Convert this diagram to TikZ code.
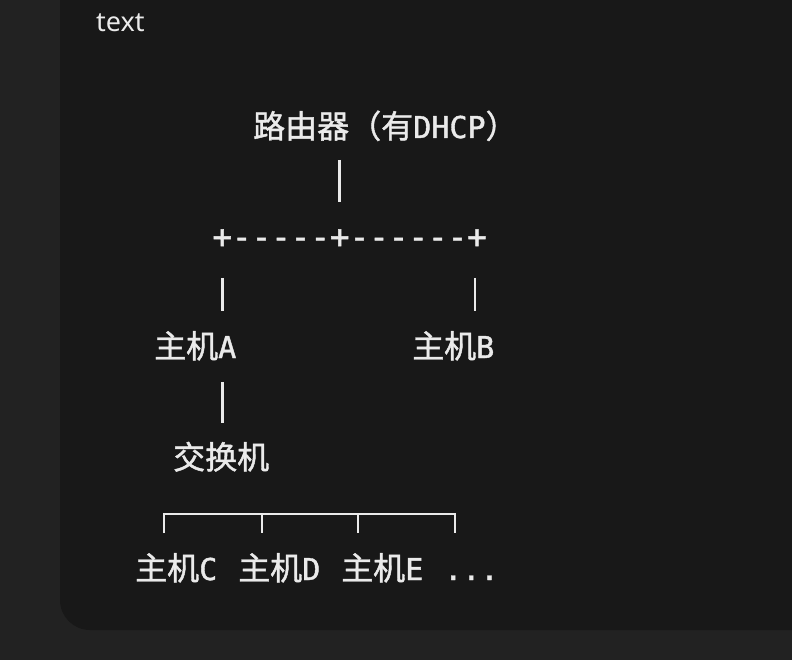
\documentclass[tikz,border=0pt]{standalone}
\usepackage{fontspec}
\newfontfamily\cjk[FakeBold=1.3]{Noto Sans CJK SC}
\newfontfamily\mono[Scale=0.94,FakeBold=1.3]{DejaVu Sans Mono}
\newfontfamily\monorow[FakeBold=1.5]{DejaVu Sans Mono}
\newfontfamily\ui{Noto Sans}
\definecolor{outerbg}{HTML}{222222}
\definecolor{innerbg}{HTML}{181818}
\definecolor{fg}{HTML}{EAEAEA}
\begin{document}
\begin{tikzpicture}[x=1pt,y=-1pt,
  lbl/.style={inner sep=0pt, text=fg, font=\fontsize{32}{32}\selectfont},
  wire/.style={draw=fg, line width=2.8pt}]
\useasboundingbox (0,0) rectangle (792,660);
\fill[outerbg] (0,0) rectangle (792,660);
\fill[innerbg, rounded corners=30pt] (60,-60) rectangle (852,630);

\node[anchor=base west, inner sep=0pt, text=fg, font=\ui\fontsize{27}{27}\selectfont] (title) at (96,32) {text};

\node[lbl, anchor=base west] (router) at (253,138) {\cjk 路由器（有\mono DHCP\cjk ）};
\node[lbl, anchor=base west, font=\monorow\fontsize{32.56}{32.56}\selectfont] (junction) at (212.2,248) {+-----+------+};
\node[lbl, anchor=base west] (hostA) at (154,358) {\cjk 主机\mono A};
\node[lbl, anchor=base west] (hostB) at (412,358) {\cjk 主机\mono B};
\node[lbl, anchor=base west] (switch) at (173,469) {\cjk 交换机};
\node[lbl, anchor=base west] (hostC) at (135,580) {\cjk 主机\mono C};
\node[lbl, anchor=base west] (hostD) at (238,580) {\cjk 主机\mono D};
\node[lbl, anchor=base west] (hostE) at (341,580) {\cjk 主机\mono E};
\node[lbl, anchor=base west] (more) at (444,580) {\mono ...};

% connectors
\coordinate (r1) at (339.5,160); \coordinate (r2) at (339.5,202);
\draw[wire] (r1) -- (r2);
\coordinate (a1) at (222.5,278); \coordinate (a2) at (222.5,311);
\draw[wire] (a1) -- (a2);
\coordinate (b1) at (475,278); \coordinate (b2) at (475,311);
\draw[wire] (b1) -- (b2);
\coordinate (s1) at (222.5,382); \coordinate (s2) at (222.5,423);
\draw[wire] (s1) -- (s2);
\coordinate (t1) at (164,514); \coordinate (t2) at (262,514);
\coordinate (t3) at (358,514); \coordinate (t4) at (455,514);
\draw[wire, line join=miter] (164,533) -- (t1) -- (t4) -- (455,533);
\draw[wire] (t2) -- (262,533);
\draw[wire] (t3) -- (358,533);
\end{tikzpicture}
\end{document}
